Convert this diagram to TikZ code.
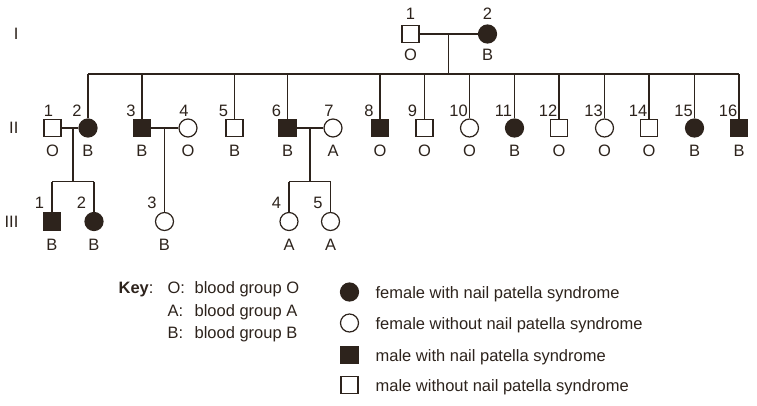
\documentclass[tikz,border=0pt]{standalone}
\usepackage{fontspec}
\setmainfont{Liberation Sans}
\usetikzlibrary{calc}

\definecolor{pedink}{RGB}{45,35,28}
\newcommand{\pedfont}{\fontsize{16.5}{19}\selectfont}

\begin{document}
\begin{tikzpicture}[x=1pt, y=-1pt, line width=1.2pt, draw=pedink,
    ind/.style={draw=pedink, line width=1.2pt, inner sep=0pt},
    mn/.style={ind, rectangle, minimum size=17pt, fill=white},
    ma/.style={mn, fill=pedink},
    fn/.style={ind, circle, minimum size=18pt, fill=white},
    fa/.style={fn, fill=pedink},
    txt/.style={inner sep=0pt, text=pedink, font=\pedfont}]
  \useasboundingbox (0,0) rectangle (757,405);

  \foreach \r/\y in {I/34, II/128, III/221.5}
    \node[txt, anchor=east] (gen-\r) at (19,\y) {\r};

  \node[mn] (I-1) at (410.5,34) {};
  \node[fa] (I-2) at (487.5,34) {};
  \foreach \n/\x/\g in {1/410.5/O, 2/487.5/B} {
    \node[txt] at (\x,14) {\n};
    \node[txt] at (\x,55) {\g};
  }

  \foreach \n/\x/\s/\g/\d in {1/52.5/mn/O/4, 2/88/fa/B/11, 3/142/ma/B/11,
      4/188/fn/O/4, 5/234.5/mn/B/11, 6/287.5/ma/B/11, 7/333/fn/A/4,
      8/380/ma/O/11, 9/424.5/mn/O/12, 10/469.5/fn/O/11, 11/514.5/fa/B/11,
      12/559/mn/O/11, 13/604.5/fn/O/11, 14/649/mn/O/11, 15/694.5/fa/B/11,
      16/739/ma/B/11} {
    \node[\s] (II-\n) at (\x,128) {};
    \node[txt] at (\x-\d,110.5) {\n};
    \node[txt] at (\x,151) {\g};
  }

  \foreach \n/\x/\s/\g in {1/52/ma/B, 2/94/fa/B, 3/164.5/fn/B, 4/289/fn/A,
      5/330.5/fn/A} {
    \node[\s] (III-\n) at (\x,221.5) {};
    \node[txt] at (\x-12.5,203) {\n};
    \node[txt] at (\x,245) {\g};
  }

  \draw (I-1) -- (I-2);
  \coordinate (I-m) at ($(I-1.east)!0.5!(I-2.west)$);
  \coordinate (II-sib) at ($(I-m)+(0,40)$);
  \draw (I-m) -- (II-sib);
  \draw (II-2 |- II-sib) -- (II-16 |- II-sib);
  \foreach \c in {2,3,5,6,8,9,10,11,12,13,14,15,16}
    \draw (II-\c |- II-sib) -- (II-\c);

  \draw (II-1) -- (II-2);
  \coordinate (II-m1) at (73,128);
  \coordinate (III-sib1) at (73,181.7);
  \draw (II-m1) -- (III-sib1);
  \draw (III-1 |- III-sib1) -- (III-2 |- III-sib1);
  \foreach \c in {1,2}
    \draw (III-\c |- III-sib1) -- (III-\c);

  \draw (II-3) -- (II-4);
  \coordinate (II-m2) at (III-3 |- II-3);
  \draw (II-m2) -- (III-3);

  \draw (II-6) -- (II-7);
  \coordinate (II-m3) at ($(II-6.east)!0.5!(II-7.west)$);
  \coordinate (III-sib2) at ($(II-m3)+(0,53.7)$);
  \draw (II-m3) -- (III-sib2);
  \draw (III-4 |- III-sib2) -- (III-5 |- III-sib2);
  \foreach \c in {4,5}
    \draw (III-\c |- III-sib2) -- (III-\c);

  \node[txt, anchor=base west] (key) at (118,293) {\textbf{Key}:};
  \foreach \k/\y in {O/293, A/316, B/338} {
    \node[txt, anchor=base west] (key-\k) at (167,\y) {\k:};
    \node[txt, anchor=base west] at (194,\y) {blood group \k};
  }

  \foreach \s/\y/\t in {fa/292/female with nail patella syndrome,
      fn/323/female without nail patella syndrome,
      ma/355/male with nail patella syndrome,
      mn/385/male without nail patella syndrome} {
    \node[\s] (leg-\s) at (349.5,\y) {};
    \node[txt, anchor=base west] at (375,\y+6) {\t};
  }
\end{tikzpicture}
\end{document}
